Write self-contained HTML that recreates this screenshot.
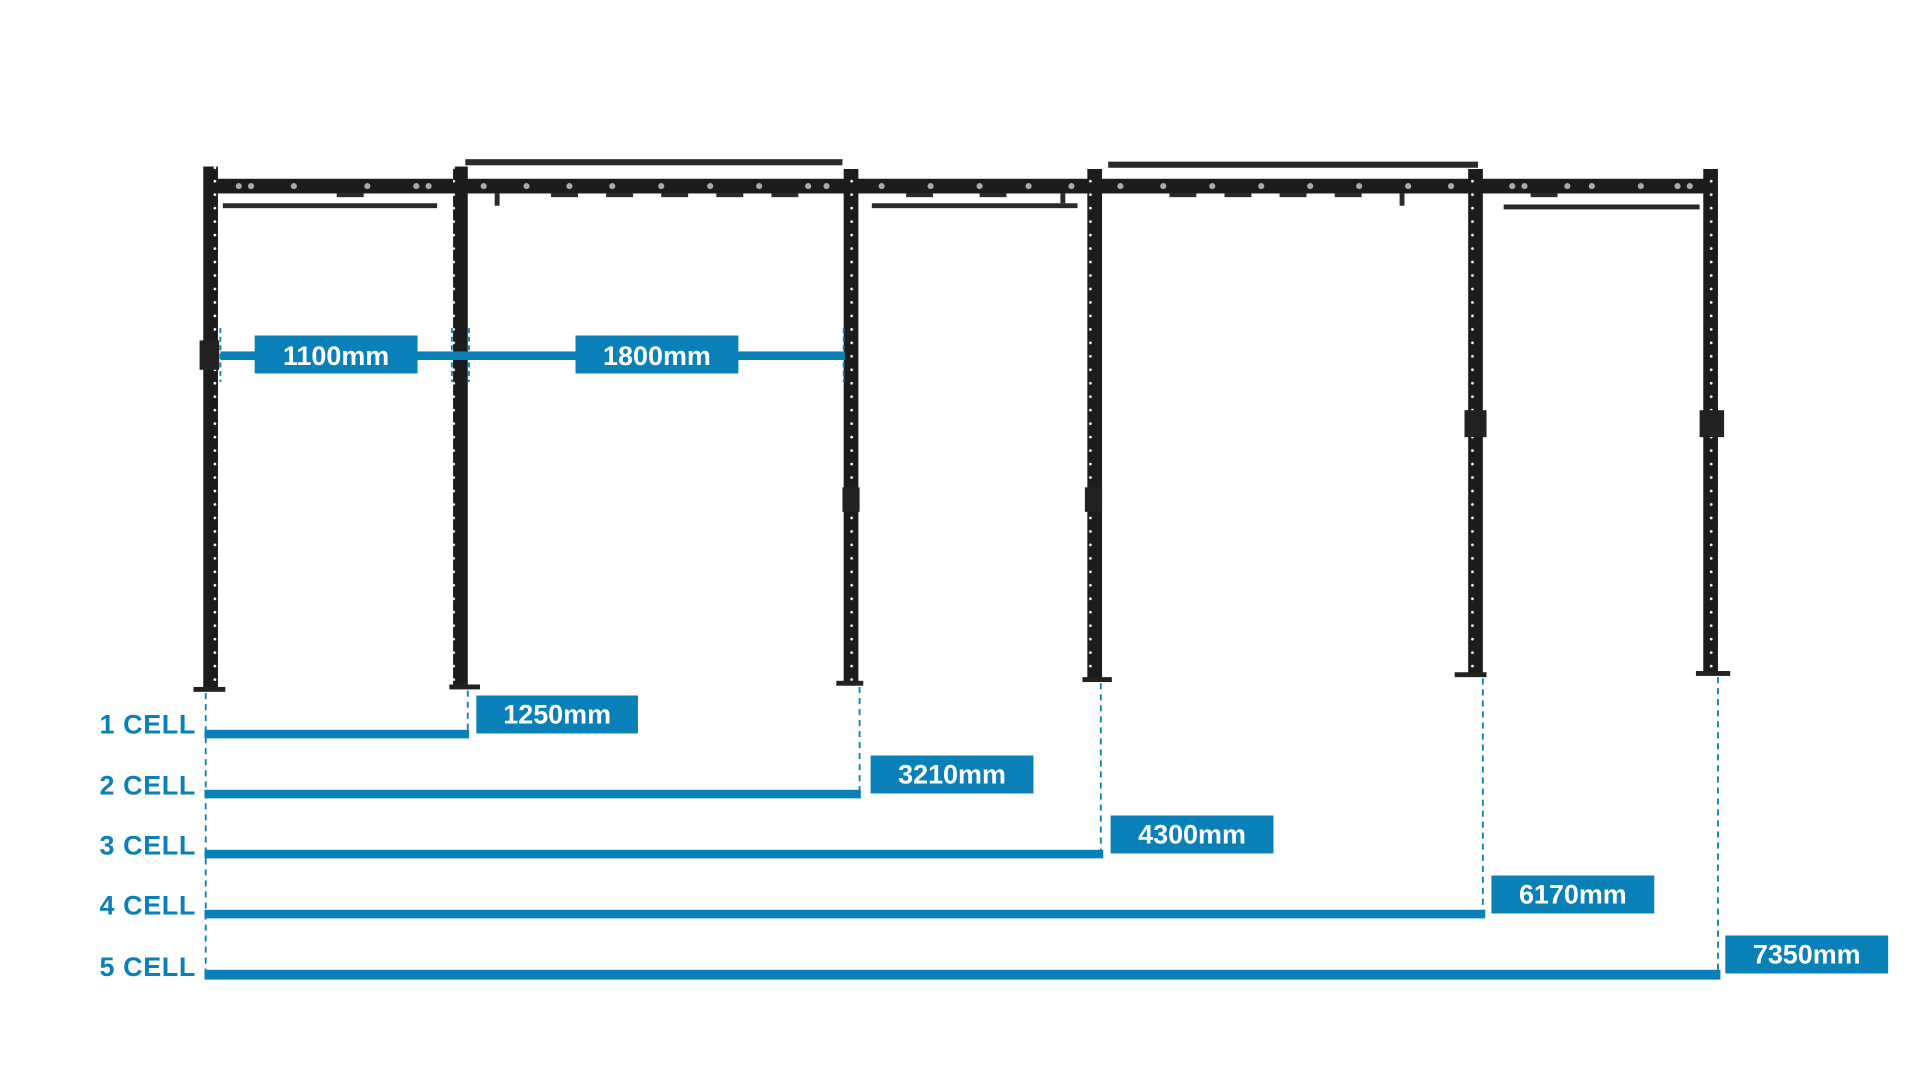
<!DOCTYPE html>
<html><head><meta charset="utf-8"><style>
html,body{margin:0;padding:0;background:#fff;width:1920px;height:1080px;overflow:hidden}
svg{display:block}
text{font-family:"Liberation Sans",sans-serif;font-weight:bold}
</style></head><body>
<svg width="1920" height="1080" viewBox="0 0 1568 882" preserveAspectRatio="none">
<defs>
<pattern id="holes" x="0" y="0" width="13" height="11" patternUnits="userSpaceOnUse">
<circle cx="6.5" cy="5" r="1.1" fill="#fff"/>
</pattern>
</defs>
<!-- top beam -->
<rect x="172" y="146" width="1225" height="12" fill="#1c1c1c"/>
<g fill="#aaa">
<circle cx="195" cy="152" r="2.5"/><circle cx="205" cy="152" r="2.5"/><circle cx="240" cy="152" r="2.5"/><circle cx="300" cy="152" r="2.5"/><circle cx="340" cy="152" r="2.5"/><circle cx="350" cy="152" r="2.5"/>
<circle cx="395" cy="152" r="2.5"/><circle cx="430" cy="152" r="2.5"/><circle cx="465" cy="152" r="2.5"/><circle cx="500" cy="152" r="2.5"/><circle cx="540" cy="152" r="2.5"/><circle cx="580" cy="152" r="2.5"/><circle cx="620" cy="152" r="2.5"/><circle cx="660" cy="152" r="2.5"/><circle cx="675" cy="152" r="2.5"/>
<circle cx="720" cy="152" r="2.5"/><circle cx="760" cy="152" r="2.5"/><circle cx="800" cy="152" r="2.5"/><circle cx="840" cy="152" r="2.5"/><circle cx="875" cy="152" r="2.5"/>
<circle cx="915" cy="152" r="2.5"/><circle cx="950" cy="152" r="2.5"/><circle cx="990" cy="152" r="2.5"/><circle cx="1030" cy="152" r="2.5"/><circle cx="1070" cy="152" r="2.5"/><circle cx="1110" cy="152" r="2.5"/><circle cx="1150" cy="152" r="2.5"/><circle cx="1185" cy="152" r="2.5"/>
<circle cx="1235" cy="152" r="2.5"/><circle cx="1245" cy="152" r="2.5"/><circle cx="1280" cy="152" r="2.5"/><circle cx="1300" cy="152" r="2.5"/><circle cx="1340" cy="152" r="2.5"/><circle cx="1370" cy="152" r="2.5"/><circle cx="1380" cy="152" r="2.5"/>
</g>
<!-- pull-up bars -->
<g fill="#2a2a2a">
<rect x="182" y="166" width="175" height="4"/>
<rect x="380" y="130" width="308" height="5"/>
<rect x="712" y="166" width="168" height="4"/>
<rect x="905" y="132" width="302" height="5"/>
<rect x="1228" y="167" width="160" height="4"/>
<rect x="275" y="158" width="22" height="3"/><rect x="450" y="158" width="22" height="3"/><rect x="495" y="158" width="22" height="3"/><rect x="540" y="158" width="22" height="3"/><rect x="585" y="158" width="22" height="3"/><rect x="630" y="158" width="22" height="3"/>
<rect x="740" y="158" width="22" height="3"/><rect x="800" y="158" width="22" height="3"/><rect x="955" y="158" width="22" height="3"/><rect x="1000" y="158" width="22" height="3"/><rect x="1045" y="158" width="22" height="3"/><rect x="1090" y="158" width="22" height="3"/><rect x="1250" y="158" width="22" height="3"/>
<rect x="404" y="158" width="4" height="10"/><rect x="1143" y="158" width="4" height="10"/><rect x="866" y="158" width="4" height="8"/>
</g>
<!-- posts -->
<g>
<rect x="166" y="136" width="12" height="428" fill="#1c1c1c"/><rect x="166" y="136" width="12" height="428" fill="url(#holes)"/>
<rect x="370" y="136" width="12" height="426" fill="#1c1c1c"/><rect x="370" y="136" width="12" height="426" fill="url(#holes)"/>
<rect x="689" y="138" width="12" height="421" fill="#1c1c1c"/><rect x="689" y="138" width="12" height="421" fill="url(#holes)"/>
<rect x="888" y="138" width="12" height="418" fill="#1c1c1c"/><rect x="888" y="138" width="12" height="418" fill="url(#holes)"/>
<rect x="1199" y="138" width="12" height="414" fill="#1c1c1c"/><rect x="1199" y="138" width="12" height="414" fill="url(#holes)"/>
<rect x="1391" y="138" width="12" height="413" fill="#1c1c1c"/><rect x="1391" y="138" width="12" height="413" fill="url(#holes)"/>
</g>
<g fill="#222">
<rect x="158" y="561" width="26" height="4"/><rect x="367" y="559" width="25" height="4"/><rect x="683" y="556" width="22" height="4"/><rect x="884" y="553" width="24" height="4"/><rect x="1188" y="549" width="26" height="4"/><rect x="1385" y="548" width="28" height="4"/>
<rect x="163" y="278" width="16" height="24"/><rect x="688" y="398" width="14" height="20"/><rect x="886" y="398" width="14" height="20"/><rect x="1196" y="335" width="18" height="22"/><rect x="1388" y="335" width="20" height="22"/>
</g>
<!-- top dimension -->
<g fill="#0a80b8">
<rect x="180" y="287" width="510" height="7"/>
<rect x="208" y="274" width="133" height="31"/>
<rect x="470" y="274" width="133" height="31"/>
</g>
<g stroke="#0a80b8" stroke-width="1.5" stroke-dasharray="4,3">
<line x1="180" y1="268" x2="180" y2="312"/><line x1="369" y1="268" x2="369" y2="312"/><line x1="383" y1="268" x2="383" y2="312"/><line x1="689" y1="268" x2="689" y2="312"/>
</g>
<text x="274.5" y="298" fill="#fff" font-size="22" text-anchor="middle">1100mm</text>
<text x="536.5" y="298" fill="#fff" font-size="22" text-anchor="middle">1800mm</text>
<!-- bottom dimensions -->
<g stroke="#0a80b8" stroke-width="1.5" stroke-dasharray="5,4">
<line x1="168" y1="566" x2="168" y2="800"/>
<line x1="382" y1="564" x2="382" y2="600"/>
<line x1="702" y1="561" x2="702" y2="650"/>
<line x1="899" y1="558" x2="899" y2="700"/>
<line x1="1211" y1="554" x2="1211" y2="750"/>
<line x1="1403" y1="553" x2="1403" y2="800"/>
</g>
<g fill="#0a80b8">
<rect x="167" y="596" width="216" height="7"/>
<rect x="167" y="645" width="536" height="7"/>
<rect x="167" y="694" width="734" height="7"/>
<rect x="167" y="743" width="1046" height="7"/>
<rect x="167" y="792" width="1238" height="8"/>
<rect x="389" y="568" width="132" height="31"/>
<rect x="711" y="617" width="133" height="31"/>
<rect x="907" y="666" width="133" height="31"/>
<rect x="1218" y="715" width="133" height="31"/>
<rect x="1409" y="764" width="133" height="31"/>
</g>
<g fill="#fff" font-size="22" text-anchor="middle">
<text x="455" y="591">1250mm</text>
<text x="777.5" y="640">3210mm</text>
<text x="973.5" y="689">4300mm</text>
<text x="1284.5" y="738">6170mm</text>
<text x="1475.5" y="787">7350mm</text>
</g>
<g fill="#0a80b8" font-size="22" text-anchor="end" letter-spacing="0.5">
<text x="160" y="599">1 CELL</text>
<text x="160" y="649">2 CELL</text>
<text x="160" y="698">3 CELL</text>
<text x="160" y="747">4 CELL</text>
<text x="160" y="797">5 CELL</text>
</g>
</svg>
</body></html>
